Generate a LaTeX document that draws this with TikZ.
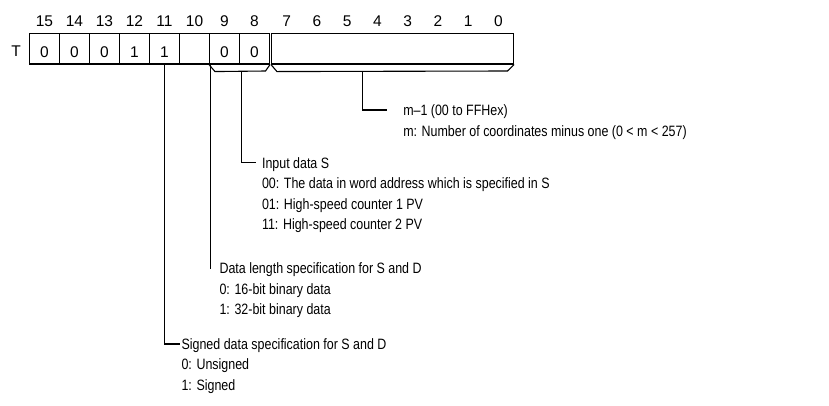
\documentclass[tikz,border=0pt]{standalone}
\usepackage{fontspec}
\setmainfont{Liberation Sans}
\newfontfamily\narrowfont{Liberation Sans}[FakeStretch=0.83]
\begin{document}
\begin{tikzpicture}[x=1pt,y=-1pt,line width=1.1pt,
  font=\fontsize{15.5}{18}\selectfont,
  cell/.style={draw,minimum width=30pt,minimum height=30.5pt,inner sep=0pt,
    text height=16.5pt,text depth=0pt},
  bitlbl/.style={anchor=base,inner sep=0pt},
  desc/.style={anchor=base west,inner sep=0pt,align=left,
    font=\narrowfont\fontsize{15}{20.6}\selectfont},
  lead/.style={line width=1.1pt}]
\useasboundingbox (0,0) rectangle (829,405);
% cells for bits 15..8
\foreach \b/\v [count=\i from 0] in {15/0,14/0,13/0,12/1,11/1,10/{},9/0,8/0}{
  \node[cell] (c\b) at ({29.5+30*\i+15},48.75) {\v};
  \node[bitlbl] (l\b) at ({29.5+30*\i+15},26.7) {\b};
}
\node[cell,minimum width=242pt] (lo) at (392.5,48.75) {};
\foreach \b [count=\i from 0] in {7,6,5,4,3,2,1,0}{
  \node[bitlbl] (l\b) at ({271.5+30.25*\i+15.1},26.7) {\b};
}
\node[bitlbl] (T) at (16,56.7) {T};
% braces
\draw[lead] (c9.south west) -- ++(6,7) coordinate (b1l) -- (265.5,71) coordinate (b1r) -- (c8.south east);
\coordinate (br1) at (241.5,71);
\draw[lead] (lo.south west) -- ++(6,7) coordinate (b2l) -- (507.5,71) coordinate (b2r) -- (lo.south east);
\coordinate (br2) at (362.7,71);
% descriptions (anchor = baseline of last line)
\node[desc] (dm) at (402.7,136.1) {m–1 (00 to FFHex)\\m: Number of coordinates minus one (0 < m < 257)};
\node[desc] (ds) at (261.5,229.8) {Input data S\\00: The data in word address which is specified in S\\01: High-speed counter 1 PV\\11: High-speed counter 2 PV};
\node[desc] (dl) at (219,314.7) {Data length specification for S and D\\0: 16-bit binary data\\1: 32-bit binary data};
\node[desc] (dg) at (181,390.2) {Signed data specification for S and D\\0: Unsigned\\1: Signed};
% leaders
\coordinate (e2) at (386.7,110);
\draw[lead] (br2) |- (e2);
\coordinate (e1) at (256,162.7);
\draw[lead] (br1) |- (e1);
\coordinate (e10) at (210,268);
\draw[lead] (c10.south east) |- (e10);
\coordinate (e11) at (180,344);
\draw[lead] (c11.south) |- (e11);
\end{tikzpicture}
\end{document}
